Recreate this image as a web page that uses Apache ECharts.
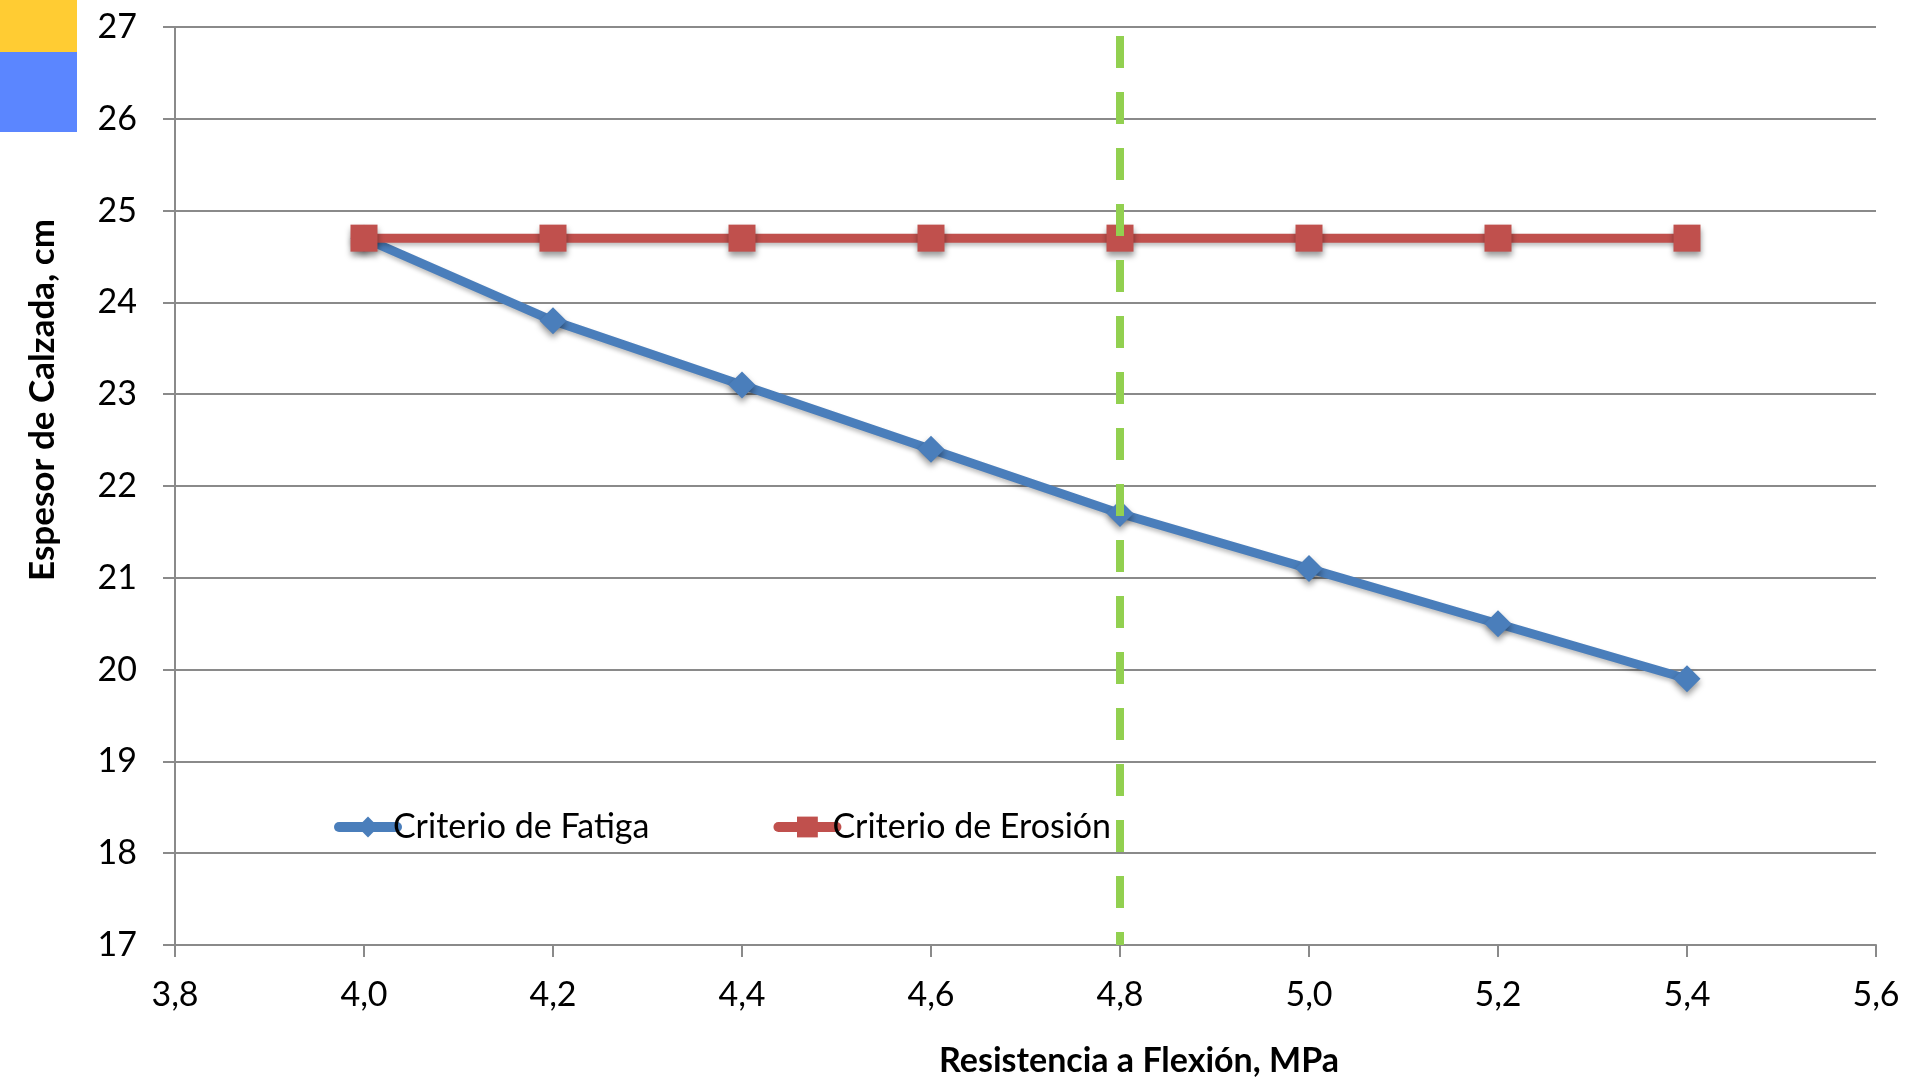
<!DOCTYPE html>
<html>
<head>
<meta charset="utf-8">
<script src="https://cdn.jsdelivr.net/npm/echarts@6/dist/echarts.min.js"></script>
<style>
  html, body { margin: 0; padding: 0; background: #fff; }
  #chart { width: 1905px; height: 1079px; }
</style>
</head>
<body>
<div id="chart"></div>
<script>
// Flexural strength (MPa) on the x axis
const resistencia = [4.0, 4.2, 4.4, 4.6, 4.8, 5.0, 5.2, 5.4];
// Required slab thickness (cm) per design criterion
const fatiga = [24.7, 23.8, 23.1, 22.4, 21.7, 21.1, 20.5, 19.9];
const erosion = [24.7, 24.7, 24.7, 24.7, 24.7, 24.7, 24.7, 24.7];
// Selected design strength, drawn as a dashed vertical
const resistenciaDiseno = 4.8;
const espesorRango = [27, 17];

const seriesNames = ['Criterio de Fatiga', 'Criterio de Erosión'];
const xTitle = 'Resistencia a Flexión, MPa';
const yTitle = 'Espesor de Calzada, cm';

const FONT = 'Lato, "Open Sans", sans-serif';
const GRID = '#8a8a8a';

const pair = (xs, ys) => xs.map((x, i) => [x, ys[i]]);

const chart = echarts.init(document.getElementById('chart'), null, { renderer: 'canvas' });

chart.setOption({
  animation: false,
  backgroundColor: '#ffffff',
  grid: { left: 175, right: 29, top: 27, bottom: 134, containLabel: false },
  xAxis: {
    type: 'value',
    min: 3.8, max: 5.6, interval: 0.2,
    axisLine: { show: true, lineStyle: { color: GRID, width: 2 } },
    axisTick: { show: true, length: 12, lineStyle: { color: GRID, width: 2 } },
    splitLine: { show: false },
    axisLabel: {
      margin: 33, color: '#000', fontFamily: FONT, fontSize: 34,
      formatter: v => v.toFixed(1).replace('.', ',')
    }
  },
  yAxis: {
    type: 'value',
    min: 17, max: 27, interval: 1,
    axisLine: { show: true, lineStyle: { color: GRID, width: 2 } },
    axisTick: { show: true, length: 12, lineStyle: { color: GRID, width: 2 } },
    splitLine: { show: true, lineStyle: { color: GRID, width: 2 } },
    axisLabel: { margin: 38, color: '#000', fontFamily: FONT, fontSize: 34 }
  },
  legend: {
    data: seriesNames,
    left: 329, top: 805,
    itemWidth: 58, itemHeight: 26, itemGap: 124,
    lineStyle: { width: 10, cap: 'round' },
    textStyle: { fontFamily: FONT, fontSize: 34, color: '#000', padding: [0, 0, 0, -9] }
  },
  series: [
    {
      name: seriesNames[0],
      type: 'line',
      data: pair(resistencia, fatiga),
      symbol: 'diamond', symbolSize: 27,
      lineStyle: { color: '#4A7EBB', width: 9,
        shadowColor: 'rgba(0,0,0,0.25)', shadowBlur: 4, shadowOffsetY: 3 },
      itemStyle: { color: '#4A7EBB',
        shadowColor: 'rgba(0,0,0,0.4)', shadowBlur: 6, shadowOffsetY: 4 },
      z: 2
    },
    {
      name: seriesNames[1],
      type: 'line',
      data: pair(resistencia, erosion),
      symbol: 'rect', symbolSize: 27,
      lineStyle: { color: '#C0504D', width: 9,
        shadowColor: 'rgba(0,0,0,0.25)', shadowBlur: 4, shadowOffsetY: 3 },
      itemStyle: { color: '#C0504D',
        shadowColor: 'rgba(0,0,0,0.4)', shadowBlur: 6, shadowOffsetY: 4 },
      z: 3
    },
    {
      name: 'diseno',
      type: 'line',
      data: espesorRango.map(y => [resistenciaDiseno, y]),
      symbol: 'none',
      lineStyle: { color: '#92D050', width: 8, type: [32, 24], dashOffset: 47 },
      silent: true,
      z: 4
    }
  ],
  graphic: [
    { type: 'rect', left: 0, top: 0, shape: { width: 77, height: 52 }, style: { fill: '#FFCC33' } },
    { type: 'rect', left: 0, top: 52, shape: { width: 77, height: 80 }, style: { fill: '#5B86FF' } },
    {
      type: 'text', x: 1139, y: 1061,
      style: { text: xTitle, fontFamily: FONT, fontWeight: 'bold', fontSize: 34,
        fill: '#000', textAlign: 'center', textVerticalAlign: 'middle' }
    },
    {
      type: 'text', x: 43, y: 400, rotation: Math.PI / 2,
      style: { text: yTitle, fontFamily: FONT, fontWeight: 'bold', fontSize: 35,
        fill: '#000', textAlign: 'center', textVerticalAlign: 'middle' }
    }
  ]
});
</script>
</body>
</html>
